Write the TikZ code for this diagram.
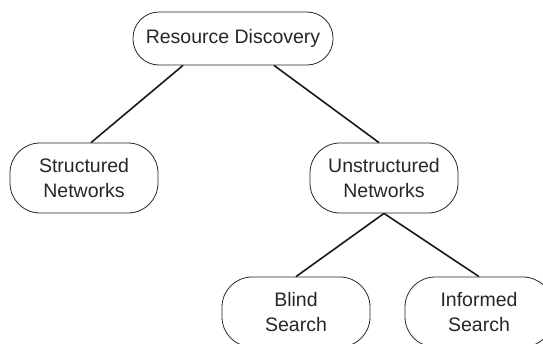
\documentclass[tikz,border=0pt]{standalone}
\usepackage{fontspec}
\setmainfont{Liberation Sans}
\usepackage{tikz}
\usetikzlibrary{positioning}

\begin{document}
\begin{tikzpicture}[
    x=1pt, y=1pt,
    % styles de boîtes
    topic/.style = {rectangle, rounded corners=30pt, draw=black!85, line width=0.8pt,
                    minimum width=148pt, minimum height=70pt, align=center,
                    font=\fontsize{19.5}{25}\selectfont, text=black!85, inner sep=0pt},
    root/.style  = {topic, rounded corners=26pt, minimum width=200pt, minimum height=53pt},
    link/.style  = {line width=1.6pt, black!90},
]
\useasboundingbox (0,0) rectangle (543,-343);

% ── Racine ───────────────────────────────────────────────────────────────────
\node[root] (disc) at (233,-38.5) {Resource Discovery};

% ── Niveau 1 ─────────────────────────────────────────────────────────────────
\node[topic] (struct) at (84,-178)  {Structured\\Networks};
\node[topic] (unstr)  at (384,-178) {Unstructured\\Networks};

% ── Niveau 2 ─────────────────────────────────────────────────────────────────
\node[topic] (blind)  at (296,-312) {Blind\\Search};
\node[topic] (inform) at (479,-312) {Informed\\Search};

% ── Liens ────────────────────────────────────────────────────────────────────
\draw[link] ([xshift=-50pt]disc.south) -- ([xshift=7pt]struct.north);
\draw[link] ([xshift=41pt]disc.south)  -- ([xshift=-5pt]unstr.north);
\draw[link] (unstr.south) -- (blind.north);
\draw[link] (unstr.south) -- (inform.north);

\end{tikzpicture}
\end{document}
